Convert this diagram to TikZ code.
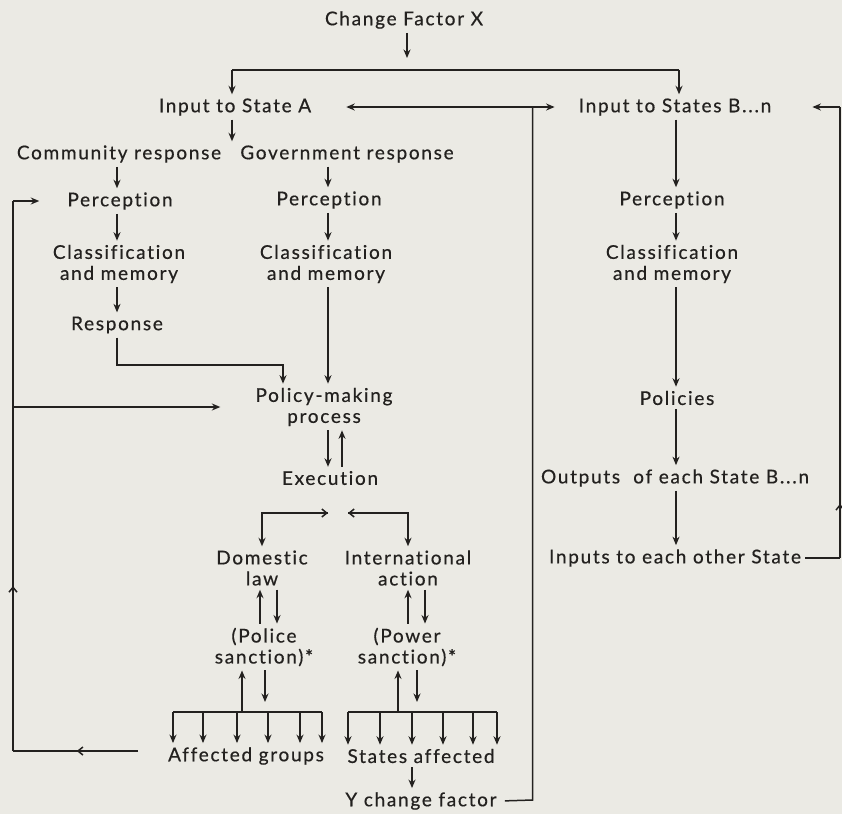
\documentclass[tikz,border=0pt]{standalone}
\usepackage{fontspec}
\setmainfont[LetterSpace=9, Ligatures=NoCommon, FakeBold=0.5]{Lato}
\usetikzlibrary{positioning,arrows.meta,decorations.markings}
\definecolor{paper}{RGB}{235,234,228}
\definecolor{ink}{RGB}{35,33,31}

\begin{document}
\begin{tikzpicture}[x=1pt, y=-1pt, >={Stealth[length=8.5pt,width=7pt]},
  every node/.style={font=\fontsize{19}{21}\selectfont, text=ink, align=center, inner sep=4pt}]
\tikzset{
  wire/.style={draw=ink, line width=1.5pt},
  link/.style={wire, ->},
  chev/.style={wire, -{Straight Barb[length=5pt,width=8pt]}},
  midmark/.style={postaction={decorate}, decoration={markings,
    mark=at position #1 with {\arrow{Straight Barb[length=5pt,width=8pt]}}}},
}
\useasboundingbox[fill=paper] (0,0) rectangle (842,814);

% columns
\coordinate (colL) at (117,0);
\coordinate (colM) at (328,0);
\coordinate (colR) at (676,0);

\node (chg) at (404,20) {Change Factor X};
\node (inA) at (235,107) {Input to State A};
\node (inB) at (675,107) {Input to States B...n};

\node (comm) at (119,154) {Community response};
\node (gov) at (347,154) {Government response};
\node (percL) at (120,201) {Perception};
\node (percM) at (329,200) {Perception};
\node (percR) at (672,200) {Perception};
\node (classL) at (119,264) {Classification\\and memory};
\node (classM) at (326,264) {Classification\\and memory};
\node (classR) at (672,264) {Classification\\and memory};
\node (resp) at (117,325) {Response};
\node (policy) at (324,407) {Policy-making\\process};
\node (exec) at (330,478) {Execution};
\node (policies) at (677,398) {Policies};
\node (outB) at (675,478) {Outputs\ \ of each State B...n};
\node (inOther) at (675,558) {Inputs to each other State};

\node (dom) at (262,568) {Domestic\\law};
\node (intl) at (408,568) {International\\action};
\node (police) at (264,647) {(Police\\sanction)*};
\node (power) at (407,647) {(Power\\sanction)*};
\node (affG) at (246,756) {Affected groups};
\node (stAff) at (421,756) {States affected};
\node (ychg) at (421,801) {Y change factor};

% change factor X splits to both inputs
\coordinate (xtop) at (407,70);
\coordinate (xl) at (232,70);
\coordinate (xr) at (679,70);
\draw[link, shorten >=12pt] (chg.south -| xtop) -- (xtop);
\draw[wire] (xl) -- (xr);
\draw[link] (xl) -- (xl |- inA.north);
\draw[link] (xr) -- (xr |- inB.north);
\draw[link] (inA.south -| xl) -- (xl |- gov.north);

% state A
\foreach \a/\b in {comm/percL, percL/classL, classL/resp}
  \draw[link] (\a.south -| colL) -- (\b.north -| colL);
\foreach \a/\b in {gov/percM, percM/classM, classM/policy}
  \draw[link] (\a.south -| colM) -- (\b.north -| colM);
\coordinate (rjog) at (283,365);
\draw[link] (resp.south -| colL) |- (rjog) -- (rjog |- policy.north);
\draw[link] ([xshift=4pt]policy.south) -- ([xshift=-2pt]exec.north);
\draw[link] ([xshift=12pt]exec.north) -- ([xshift=18pt]policy.south);

% execution
\coordinate (ebar) at (338,513);
\draw[link] ([xshift=-10pt]ebar) -| (dom.north);
\draw[link] ([xshift=10pt]ebar) -| (intl.north);
\draw[chev] (dom.north |- ebar) -- ([xshift=-10pt]ebar);
\draw[chev] (intl.north |- ebar) -- ([xshift=10pt]ebar);

\draw[link] ([xshift=-4pt]police.north) -- ([xshift=-4pt]police.north |- dom.south);
\draw[link] ([xshift=15pt]dom.south) -- ([xshift=15pt]dom.south |- police.north);
\draw[link] (power.north -| intl) -- (intl.south);
\draw[link] ([xshift=17pt]intl.south) -- ([xshift=17pt]intl.south |- power.north);

% sanctions fan out
\coordinate (pup) at (242,712);
\coordinate (pdn) at (265,702);
\draw[link] (pup) -- (pup |- police.south);
\draw[link] (police.south -| pdn) -- (pdn);
\foreach \gx [count=\i] in {173,203,237,268,300,322}{
  \coordinate (gb\i) at (\gx,712);
  \draw[link] (gb\i) -- (gb\i |- affG.north);
}
\draw[wire] (gb1) -- (gb6);

\coordinate (wup) at (398,712);
\coordinate (wdn) at (417,702);
\draw[link] (wup) -- (wup |- power.south);
\draw[link] (power.south -| wdn) -- (wdn);
\foreach \sx [count=\i] in {348,380,412,443,473,497}{
  \coordinate (sb\i) at (\sx,712);
  \draw[link] (sb\i) -- (sb\i |- stAff.north);
}
\draw[wire] (sb1) -- (sb6);
\draw[link] ([xshift=-9pt]stAff.south) -- ([xshift=-9pt]ychg.north);

% Y change factor returns to both inputs
\coordinate (yret) at (532.5,107);
\coordinate (ycorner) at (532.5,800);
\draw[wire, shorten <=4pt] (ychg.east) -- (ycorner) -- (yret);
\draw[link, shorten >=31pt] (yret) -- (inA);
\draw[link, shorten >=20pt] (yret) -- (inB);

% states B...n
\foreach \a/\b in {inB/percR, percR/classR, classR/policies, policies/outB, outB/inOther}
  \draw[link] (\a.south -| colR) -- (\b.north -| colR);
\coordinate (rlB) at (840,558);
\coordinate (rlT) at (840,107);
\draw[wire] (inOther.east) -- (rlB);
\draw[wire, midmark=0.12] (rlB) -- (rlT);
\draw[link, shorten >=37pt] (rlT) -- (inB);

% community feedback loop
\coordinate (lpS) at (138,751);
\coordinate (lpB) at (13,751);
\coordinate (lpT) at (13,201);
\draw[wire, midmark=0.49] (lpS) -- (lpB);
\draw[wire, midmark=0.3] (lpB) -- (lpT);
\draw[link, shorten >=24pt] (lpT) -- (percL);
\draw[link, shorten >=31pt] (lpB |- policy) -- (policy);
\end{tikzpicture}
\end{document}
